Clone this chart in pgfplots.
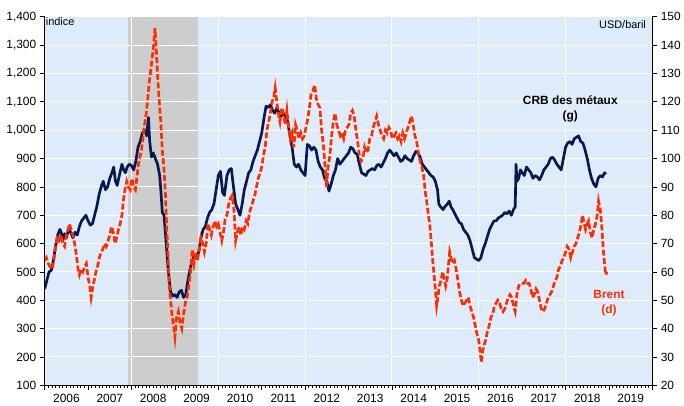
\documentclass[border=0pt]{standalone}
\usepackage{fontspec}
\setmainfont{Liberation Sans}
\usepackage{pgfplots}
\usepackage{pgfplotstable}
\pgfplotsset{compat=1.18}
\definecolor{bgblue}{HTML}{DDEBFA}
\definecolor{recgrey}{HTML}{CDCDCD}
\definecolor{crbnavy}{HTML}{0A1850}
\definecolor{brentred}{HTML}{FF2E00}

% CRB metals index (left axis)
\pgfplotstableread{
year val
2006.00 440
2006.05 470
2006.10 500
2006.15 505
2006.20 540
2006.25 590
2006.30 630
2006.35 650
2006.38 640
2006.42 610
2006.46 635
2006.50 620
2006.55 650
2006.60 640
2006.65 620
2006.70 640
2006.75 630
2006.80 660
2006.85 680
2006.90 690
2006.95 700
2007.00 680
2007.05 665
2007.10 670
2007.15 700
2007.20 730
2007.25 770
2007.30 800
2007.35 820
2007.40 790
2007.45 800
2007.50 830
2007.55 850
2007.59 870
2007.63 820
2007.67 805
2007.72 840
2007.78 880
2007.82 860
2007.86 850
2007.90 870
2007.95 880
2008.00 875
2008.05 860
2008.10 890
2008.15 940
2008.20 960
2008.25 990
2008.30 1000
2008.35 980
2008.39 1045
2008.42 960
2008.46 905
2008.50 920
2008.55 900
2008.60 880
2008.65 840
2008.68 780
2008.71 710
2008.75 700
2008.80 600
2008.85 500
2008.90 430
2008.95 415
2009.00 420
2009.05 410
2009.10 430
2009.15 435
2009.20 410
2009.25 420
2009.30 470
2009.35 510
2009.40 540
2009.45 560
2009.50 555
2009.55 570
2009.60 620
2009.65 650
2009.70 660
2009.75 690
2009.80 710
2009.85 720
2009.90 740
2009.95 790
2010.00 840
2010.05 855
2010.10 780
2010.14 770
2010.20 840
2010.25 860
2010.30 865
2010.35 800
2010.40 740
2010.45 720
2010.50 700
2010.55 740
2010.60 790
2010.65 820
2010.70 850
2010.75 860
2010.80 890
2010.85 910
2010.90 930
2010.95 960
2011.00 990
2011.05 1040
2011.10 1085
2011.15 1080
2011.20 1090
2011.25 1070
2011.30 1060
2011.35 1080
2011.40 1060
2011.45 1050
2011.50 1060
2011.55 1050
2011.60 1030
2011.65 980
2011.70 940
2011.75 880
2011.80 870
2011.85 880
2011.90 860
2011.95 850
2012.00 840
2012.05 950
2012.10 945
2012.15 930
2012.20 940
2012.25 930
2012.30 890
2012.35 870
2012.40 860
2012.45 830
2012.50 820
2012.55 785
2012.60 810
2012.65 840
2012.70 860
2012.75 900
2012.80 880
2012.85 890
2012.90 900
2012.95 910
2013.00 920
2013.05 940
2013.10 935
2013.15 920
2013.20 915
2013.25 880
2013.30 850
2013.35 845
2013.40 840
2013.45 855
2013.50 860
2013.55 865
2013.60 860
2013.65 875
2013.70 880
2013.75 870
2013.80 885
2013.85 900
2013.90 920
2013.95 930
2014.00 920
2014.05 910
2014.10 920
2014.15 905
2014.20 890
2014.25 895
2014.30 910
2014.35 900
2014.40 895
2014.45 890
2014.50 910
2014.55 925
2014.60 920
2014.65 905
2014.70 880
2014.75 870
2014.80 860
2014.85 850
2014.90 840
2014.95 835
2015.00 820
2015.05 790
2015.08 740
2015.12 730
2015.18 720
2015.22 730
2015.28 740
2015.32 750
2015.36 730
2015.40 720
2015.45 705
2015.50 690
2015.55 675
2015.60 670
2015.65 650
2015.70 640
2015.75 630
2015.80 610
2015.85 580
2015.90 550
2015.95 545
2016.00 540
2016.05 550
2016.10 580
2016.15 600
2016.20 625
2016.25 650
2016.30 665
2016.35 680
2016.40 680
2016.45 690
2016.50 695
2016.55 700
2016.60 710
2016.65 705
2016.70 715
2016.75 700
2016.80 720
2016.84 730
2016.86 880
2016.88 820
2016.92 830
2016.96 860
2017.00 850
2017.05 840
2017.10 870
2017.15 860
2017.20 850
2017.25 830
2017.30 840
2017.35 835
2017.40 825
2017.45 840
2017.50 860
2017.55 870
2017.60 880
2017.65 900
2017.70 905
2017.75 895
2017.80 880
2017.85 870
2017.90 860
2017.95 900
2018.00 940
2018.05 955
2018.10 960
2018.15 950
2018.20 970
2018.25 975
2018.30 980
2018.35 960
2018.40 955
2018.45 930
2018.50 900
2018.55 860
2018.60 830
2018.65 810
2018.70 800
2018.75 830
2018.80 840
2018.85 835
2018.90 850
2018.93 845
}\crbdata

% Brent, USD/baril (right axis)
\pgfplotstableread{
year val
2006.00 64
2006.04 65
2006.08 63
2006.12 62
2006.17 61
2006.21 64
2006.25 69
2006.29 72
2006.33 71
2006.38 73
2006.42 70
2006.46 69
2006.50 73
2006.54 75
2006.57 77
2006.61 75
2006.65 73
2006.69 70
2006.73 66
2006.77 61
2006.80 59
2006.84 61
2006.88 60
2006.92 62
2006.96 63
2007.00 58
2007.04 55
2007.07 51
2007.10 54
2007.14 57
2007.18 60
2007.22 62
2007.26 65
2007.30 67
2007.34 68
2007.38 70
2007.42 69
2007.46 71
2007.50 73
2007.54 76
2007.58 74
2007.62 70
2007.66 72
2007.70 75
2007.74 77
2007.78 80
2007.82 86
2007.86 90
2007.89 92
2007.93 90
2007.97 89
2008.01 93
2008.05 90
2008.09 89
2008.13 94
2008.16 98
2008.20 101
2008.23 103
2008.27 108
2008.30 112
2008.34 116
2008.38 122
2008.41 127
2008.45 132
2008.48 136
2008.51 140
2008.54 146
2008.57 139
2008.60 130
2008.63 122
2008.67 114
2008.71 103
2008.75 96
2008.78 88
2008.81 76
2008.84 66
2008.87 55
2008.90 50
2008.94 44
2008.97 41
2009.00 37
2009.04 44
2009.08 46
2009.12 42
2009.16 40
2009.20 45
2009.24 49
2009.28 51
2009.32 55
2009.36 60
2009.40 68
2009.44 63
2009.48 67
2009.52 64
2009.56 68
2009.60 72
2009.64 70
2009.68 67
2009.72 70
2009.76 77
2009.80 75
2009.84 73
2009.88 76
2009.92 78
2009.96 76
2010.00 77
2010.04 74
2010.08 71
2010.12 74
2010.16 79
2010.20 80
2010.24 84
2010.28 86
2010.32 87
2010.36 82
2010.40 71
2010.44 74
2010.48 76
2010.52 73
2010.56 76
2010.60 75
2010.64 78
2010.68 77
2010.72 81
2010.76 83
2010.80 85
2010.84 87
2010.88 90
2010.92 93
2010.96 95
2011.00 97
2011.04 101
2011.08 104
2011.12 110
2011.16 113
2011.20 116
2011.24 120
2011.28 122
2011.31 125
2011.34 121
2011.38 116
2011.42 113
2011.46 118
2011.50 116
2011.54 112
2011.58 117
2011.62 111
2011.66 107
2011.70 109
2011.74 104
2011.78 112
2011.82 110
2011.86 107
2011.90 109
2011.94 107
2011.98 108
2012.02 111
2012.06 114
2012.10 118
2012.14 123
2012.18 124
2012.22 126
2012.26 121
2012.30 119
2012.34 118
2012.38 110
2012.42 105
2012.46 97
2012.49 90
2012.53 97
2012.57 101
2012.61 108
2012.65 113
2012.69 116
2012.73 112
2012.77 110
2012.81 108
2012.85 109
2012.89 107
2012.93 110
2012.97 111
2013.01 112
2013.05 116
2013.09 117
2013.13 115
2013.17 110
2013.21 106
2013.25 101
2013.29 99
2013.33 100
2013.37 104
2013.41 102
2013.45 103
2013.49 107
2013.53 108
2013.57 111
2013.61 113
2013.65 115
2013.69 112
2013.73 110
2013.77 108
2013.81 107
2013.85 110
2013.89 109
2013.93 111
2013.97 110
2014.01 107
2014.05 108
2014.09 109
2014.13 107
2014.17 108
2014.21 106
2014.25 109
2014.29 107
2014.33 109
2014.37 111
2014.41 113
2014.45 115
2014.49 112
2014.53 108
2014.57 106
2014.61 102
2014.65 99
2014.69 97
2014.73 94
2014.77 88
2014.80 85
2014.84 80
2014.87 77
2014.91 70
2014.94 64
2014.97 59
2015.00 54
2015.03 48
2015.06 51
2015.09 55
2015.13 57
2015.17 60
2015.20 58
2015.24 55
2015.27 57
2015.30 62
2015.33 67
2015.36 65
2015.40 63
2015.44 64
2015.48 61
2015.52 57
2015.56 53
2015.60 50
2015.64 48
2015.68 49
2015.72 50
2015.76 51
2015.80 48
2015.84 46
2015.88 44
2015.92 41
2015.96 38
2015.99 37
2016.03 32
2016.06 28
2016.09 32
2016.12 34
2016.16 36
2016.20 39
2016.24 41
2016.28 44
2016.32 45
2016.36 48
2016.40 49
2016.44 50
2016.48 49
2016.52 47
2016.56 46
2016.60 47
2016.64 49
2016.68 51
2016.72 52
2016.76 51
2016.80 48
2016.84 46
2016.88 52
2016.92 55
2016.96 56
2017.00 56
2017.04 56
2017.08 57
2017.12 56
2017.16 56
2017.20 54
2017.24 51
2017.28 52
2017.32 54
2017.36 53
2017.40 50
2017.44 47
2017.48 46
2017.52 47
2017.56 49
2017.60 51
2017.64 52
2017.68 53
2017.72 55
2017.76 57
2017.80 58
2017.84 61
2017.88 62
2017.92 64
2017.96 65
2018.00 67
2018.04 69
2018.08 68
2018.12 65
2018.16 67
2018.20 69
2018.24 70
2018.28 72
2018.32 74
2018.36 77
2018.39 80
2018.43 77
2018.46 75
2018.50 77
2018.53 78
2018.57 74
2018.61 72
2018.65 75
2018.69 77
2018.73 80
2018.76 85
2018.80 82
2018.83 77
2018.86 70
2018.88 66
2018.91 61
2018.93 59
2018.95 60
}\brentdata

\begin{document}
\begin{tikzpicture}
\pgfplotsset{
  base/.style={
    scale only axis, width=612pt, height=371pt,
    xmin=2006, xmax=2020,
    font=\fontsize{12}{14}\selectfont,
    /pgf/number format/assume math mode=true,
    tick align=outside,
    major tick length=5pt, minor tick length=3pt,
    tick style={black, line width=0.8pt},
    axis line style={black, line width=1pt},
  },
}
% background, recession band, vertical grid
\begin{axis}[base, hide axis, ymin=100, ymax=1400]
  \fill[bgblue] (rel axis cs:0,0) rectangle (rel axis cs:1,1);
  \fill[recgrey] (axis cs:2007.93,100) rectangle (axis cs:2009.53,1400);
  \draw[white, line width=1pt] (axis cs:2008,100) -- (axis cs:2008,1400);
  \draw[white, line width=1pt] (axis cs:2010,100) -- (axis cs:2010,1400);
  \draw[white, line width=1pt] (axis cs:2012,100) -- (axis cs:2012,1400);
  \draw[white, line width=1pt] (axis cs:2014,100) -- (axis cs:2014,1400);
  \draw[white, line width=1pt] (axis cs:2016,100) -- (axis cs:2016,1400);
  \draw[white, line width=1pt] (axis cs:2018,100) -- (axis cs:2018,1400);
\end{axis}
% left axis: CRB metals
\begin{axis}[base, ymin=100, ymax=1400,
  axis x line*=bottom, axis y line*=left,
  xtick={2006,2007,2008,2009,2010,2011,2012,2013,2014,2015,2016,2017,2018,2019,2020},
  minor x tick num=11,
  x tick label as interval,
  xticklabels={2006,2007,2008,2009,2010,2011,2012,2013,2014,2015,2016,2017,2018,2019},
  ytick={100,200,...,1400},
  yticklabel style={/pgf/number format/1000 sep={,}},
  ymajorgrids, grid style={white, line width=1pt},
]
  \addplot[crbnavy, line width=2.7pt, line join=round] table[x=year, y=val] {\crbdata};
  \node[anchor=north west, inner sep=1pt, font=\fontsize{11}{13}\selectfont] at (rel axis cs:0,1) {indice};
  \node[anchor=north east, inner sep=2pt, font=\fontsize{11}{13}\selectfont] at (rel axis cs:0.993,0.995) {USD/baril};
  \node[align=center, font=\fontsize{12}{15}\selectfont\bfseries] at (axis cs:2018.11,1075) {CRB des métaux\\(g)};
  \node[align=center, text=brentred, font=\fontsize{12}{15}\selectfont\bfseries] at (axis cs:2019.0,390) {Brent\\(d)};
\end{axis}
% right axis: Brent
\begin{axis}[base, ymin=20, ymax=150,
  axis y line*=right, axis x line=none,
  ytick={20,30,...,150},
]
  \addplot[brentred, line width=2.7pt, dash pattern=on 6pt off 2.5pt] table[x=year, y=val] {\brentdata};
\end{axis}
\path ([shift={(-45pt,-20pt)}]current axis.south west) rectangle ++(684pt,408pt);
\end{tikzpicture}
\end{document}
